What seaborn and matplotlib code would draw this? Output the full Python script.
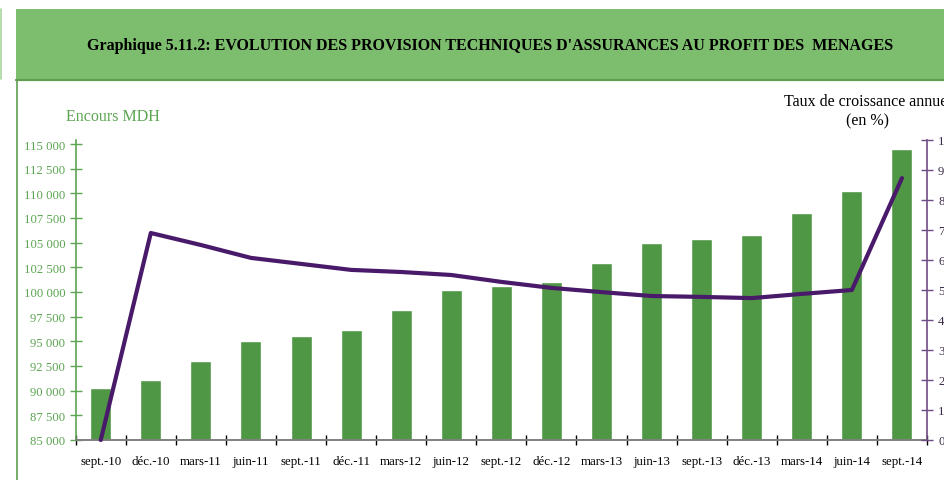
import numpy as np
import pandas as pd
import matplotlib
matplotlib.use("Agg")
import matplotlib.pyplot as plt
from matplotlib.patches import Rectangle
from matplotlib.lines import Line2D
import seaborn as sns

# Quarter labels
periods = ["sept.-10", "déc.-10", "mars-11", "juin-11", "sept.-11", "déc.-11",
           "mars-12", "juin-12", "sept.-12", "déc.-12", "mars-13", "juin-13",
           "sept.-13", "déc.-13", "mars-14", "juin-14", "sept.-14"]

# Outstanding technical provisions (MDH)
encours = [90300, 91100, 93000, 95000, 95500, 96150, 98200, 100200, 100600,
           101000, 102950, 105000, 105400, 105800, 108000, 110200, 114500]

# Annual growth rate (%)
taux = [0.0, 6.9, 6.5, 6.07, 5.87, 5.67, 5.6, 5.5, 5.27, 5.07, 4.93, 4.8,
        4.77, 4.73, 4.87, 5.0, 8.73]

left_ticks = [85000, 87500, 90000, 92500, 95000, 97500, 100000, 102500,
              105000, 107500, 110000, 112500, 115000]
right_ticks = list(range(0, 11))

BAR = "#4F9745"
GREEN_TXT = "#5CA552"
PURPLE = "#4A1A6A"
PURPLE_AX = "#6E4C85"
BAND = "#7DBD6E"

sns.set_theme(style="white")
plt.rcParams["font.family"] = ["Liberation Serif", "DejaVu Serif"]

W, H = 945, 481
fig = plt.figure(figsize=(W / 100, H / 100), dpi=100)
fig.patch.set_facecolor("white")

def fx(px):
    return px / W

def fy(py):
    return (H - py) / H

# Header band
fig.patches.append(Rectangle((fx(16), fy(81)), 1 - fx(16), fy(10) - fy(81),
                             transform=fig.transFigure, facecolor=BAND,
                             edgecolor="none", zorder=0))
fig.lines.append(Line2D([fx(16), 1], [fy(81), fy(81)], transform=fig.transFigure,
                        color="#5E9E50", lw=1.6))
fig.lines.append(Line2D([fx(16.5), fx(16.5)], [fy(81), 0], transform=fig.transFigure,
                        color="#5DA04F", lw=1.2))
fig.lines.append(Line2D([fx(0.6), fx(0.6)], [fy(10), fy(80)], transform=fig.transFigure,
                        color="#A9D69E", lw=1.2))

fig.text(fx(490), fy(46), "Graphique 5.11.2: EVOLUTION DES PROVISION TECHNIQUES "
         "D'ASSURANCES AU PROFIT DES  MENAGES", ha="center", va="center",
         fontsize=11.5, fontweight="bold", color="black")

ax = fig.add_axes([fx(75.7), fy(441), fx(927) - fx(75.7), fy(141) - fy(441)])
ax.set_facecolor("none")

df = pd.DataFrame({"periode": periods, "encours": encours})
sns.barplot(data=df, x="periode", y="encours", color=BAR, width=0.42,
            saturation=1, ax=ax, zorder=2)
ax.set_ylim(85000, 85000 + 30000 * 300 / 296)
ax.set_xlim(-0.5, len(periods) - 0.5)
ax.set_xlabel("")
ax.set_ylabel("")

ax.set_yticks(left_ticks)
ax.set_yticklabels([f"{v:,}".replace(",", " ") for v in left_ticks])
ax.tick_params(axis="y", colors=GREEN_TXT, direction="inout", length=8,
               width=1, pad=3.5, labelsize=9.2, left=True)

# category boundaries carry the tick marks, labels sit at centres
n = len(periods)
ax.set_xticks(np.arange(-0.5, n, 1.0))
ax.set_xticklabels([])
ax.set_xticks(np.arange(n), minor=True)
ax.set_xticklabels(periods, minor=True)
ax.tick_params(axis="x", which="major", direction="inout", length=7, width=1,
               color="black", bottom=True)
ax.tick_params(axis="x", which="minor", length=0, pad=11, labelsize=9.3,
               labelcolor="black")

for side in ("top", "right"):
    ax.spines[side].set_visible(False)
ax.spines["left"].set_color(GREEN_TXT)
ax.spines["left"].set_linewidth(1.2)
ax.spines["bottom"].set_color("#808080")
ax.spines["bottom"].set_linewidth(1.4)

ax2 = ax.twinx()
sns.lineplot(x=np.arange(n), y=taux, ax=ax2, color=PURPLE, linewidth=3.0,
             zorder=3, clip_on=False)
ax2.set_ylim(0, 10)
ax2.set_yticks(right_ticks)
ax2.tick_params(axis="y", colors="#3B2A48", direction="inout", length=8,
                width=1, pad=4, labelsize=9.2, right=True)
ax2.tick_params(axis="y", color=PURPLE_AX)
for side in ("top", "left", "bottom"):
    ax2.spines[side].set_visible(False)
ax2.spines["right"].set_color(PURPLE_AX)
ax2.spines["right"].set_linewidth(1.2)
ax2.set_ylabel("")

fig.text(fx(113), fy(121), "Encours MDH", ha="center", va="baseline",
         fontsize=11.5, color=GREEN_TXT)
fig.text(fx(868), fy(106), "Taux de croissance annuel", ha="center",
         va="baseline", fontsize=11.5, color="black")
fig.text(fx(868), fy(125), "(en %)", ha="center", va="baseline",
         fontsize=11.5, color="black")

fig.savefig("out.png", dpi=100)
